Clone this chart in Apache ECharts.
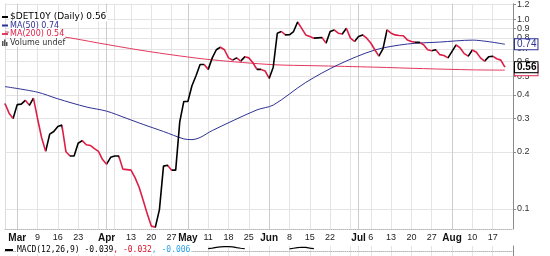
<!DOCTYPE html>
<html><head><meta charset="utf-8">
<script src="https://cdn.jsdelivr.net/npm/echarts@6/dist/echarts.min.js"></script>
<style>html,body{margin:0;padding:0;background:#fff}#c{width:550px;height:256px}</style>
</head><body><div id="c"></div>
<script>
// ---- categories: trading days 2015 (MM-DD) ----
const categories = ['02-25','02-26','02-27',
'03-02','03-03','03-04','03-05','03-06','03-09','03-10','03-11','03-12','03-13','03-16','03-17','03-18','03-19','03-20','03-23','03-24','03-25','03-26','03-27','03-30','03-31',
'04-01','04-02','04-07','04-08','04-09','04-10','04-13','04-14','04-15','04-16','04-17','04-20','04-21','04-22','04-23','04-24','04-27','04-28','04-29','04-30',
'05-04','05-05','05-06','05-07','05-08','05-11','05-12','05-13','05-14','05-15','05-18','05-19','05-20','05-21','05-22','05-25','05-26','05-27','05-28','05-29',
'06-01','06-02','06-03','06-04','06-05','06-08','06-09','06-10','06-11','06-12','06-15','06-16','06-17','06-18','06-19','06-22','06-23','06-24','06-25','06-26','06-29','06-30',
'07-01','07-02','07-03','07-06','07-07','07-08','07-09','07-10','07-13','07-14','07-15','07-16','07-17','07-20','07-21','07-22','07-23','07-24','07-27','07-28','07-29','07-30','07-31',
'08-03','08-04','08-05','08-06','08-07','08-10','08-11','08-12','08-13','08-14','08-17','08-18','08-19','08-20','08-21','08-24'];

// ---- daily closes ($DET10Y) ----
const price = [0.36,0.32,0.30,0.355,0.357,0.374,0.352,0.384,0.30,0.238,
 0.201,0.248,0.256,0.272,0.277,0.20,0.19,0.19,0.222,0.229,
 0.218,0.216,0.208,0.201,0.182,0.172,0.187,0.19,0.19,0.162,
 0.161,0.160,0.146,0.130,0.111,0.094,0.081,0.080,0.099,0.168,
 0.170,0.160,0.160,0.288,0.369,0.369,0.447,0.504,0.578,0.578,
 0.545,0.627,0.692,0.713,0.692,0.627,0.610,0.627,0.603,0.635,
 0.627,0.591,0.545,0.545,0.535,0.488,0.560,0.846,0.864,0.829,
 0.830,0.864,0.970,0.898,0.829,0.813,0.797,0.800,0.803,0.750,
 0.864,0.880,0.846,0.839,0.898,0.797,0.766,0.813,0.829,0.797,
 0.751,0.692,0.640,0.700,0.880,0.846,0.829,0.823,0.820,0.780,
 0.765,0.757,0.757,0.735,0.692,0.684,0.692,0.652,0.645,0.627,
 0.679,0.735,0.707,0.660,0.640,0.690,0.671,0.627,0.603,0.635,
 0.640,0.620,0.610,0.560];

// ---- moving averages (read at sample dates) ----
const ma50 = [['02-25',0.442],['03-09',0.413],['03-16',0.381],['03-25',0.345],['04-01',0.328],['04-10',0.300],
 ['04-16',0.279],['04-23',0.256],['04-30',0.234],['05-05',0.232],['05-07',0.238],['05-12',0.259],['05-27',0.333],
 ['06-02',0.353],['06-12',0.465],['06-24',0.577],['07-07',0.690],['07-17',0.742],['07-29',0.760],['08-10',0.778],['08-20',0.740]];
const ma200 = [['02-25',0.86],['03-17',0.811],['03-30',0.751],['04-15',0.690],['04-29',0.642],['05-12',0.612],
 ['06-02',0.577],['06-16',0.570],['07-07',0.560],['07-23',0.550],['08-10',0.542],['08-20',0.540]];

// ---- MACD line (only the visible tops of the lower panel) ----
const macdA = [['05-11',0.075],['05-12',0.088],['05-13',0.108],['05-14',0.122],['05-15',0.130],['05-18',0.128],['05-19',0.120],['05-20',0.102],['05-21',0.085],['05-22',0.072]];
const macdB = [['06-08',0.070],['06-09',0.085],['06-10',0.100],['06-11',0.112],['06-12',0.108],['06-15',0.090],['06-16',0.075]];
const macdLegend = [-0.039, -0.032, -0.006];

// ---- tick labels ----
const xTickLabels = [['03-02','Mar'],['03-09','9'],['03-16','16'],['03-23','23'],['04-01','Apr'],['04-13','13'],['04-20','20'],['04-27','27'],
 ['05-04','May'],['05-11','11'],['05-18','18'],['05-25','25'],['06-01','Jun'],['06-08','8'],['06-15','15'],['06-22','22'],
 ['07-01','Jul'],['07-06','6'],['07-13','13'],['07-20','20'],['07-27','27'],['08-03','Aug'],['08-10','10'],['08-17','17']];
const monthNames = ['Mar','Apr','May','Jun','Jul','Aug'];
const extraGridDates = ['03-30','04-07','06-29'];
const yTicks = [0.1,0.2,0.3,0.4,0.5,0.6,0.7,0.8,0.9,1.0,1.2];

const RED = '#dc1e46', BLUE = '#2e3194', MA200C = '#e3385f';
const labelMap = new Map(xTickLabels);
const gridSet = new Set(xTickLabels.map(d => d[0]).concat(extraGridDates));
const monthSet = new Set(xTickLabels.filter(d => monthNames.includes(d[1])).map(d => d[0]));

// down-move runs for red colouring
const pieces = [];
for (let i = 0; i < price.length - 1; i++) {
  if (price[i + 1] < price[i]) {
    const last = pieces[pieces.length - 1];
    if (last && last.lte === i) last.lte = i + 1;
    else pieces.push({gte: i, lte: i + 1, color: RED});
  }
}
const lastP = price[price.length - 1];
const last50 = ma50[ma50.length - 1][1];
const last200 = ma200[ma200.length - 1][1];

const FONT = '"DejaVu Sans", Verdana, sans-serif';
const MONO = '"DejaVu Sans Mono", monospace';
function tag(val, border, color, bold) {
  return {
    silent: true, symbol: 'none', animation: false,
    lineStyle: {color: 'rgba(0,0,0,0)', width: 0.01},
    data: [{yAxis: val}],
    label: {show: true, position: 'end', distance: 2, formatter: val.toFixed(2),
      fontFamily: 'Liberation Sans, Arial, sans-serif', fontSize: 10, lineHeight: 9, fontWeight: bold ? 'bold' : 'normal',
      color: color, backgroundColor: '#fff', borderColor: border, borderWidth: 1, padding: [1, 1, 0, 2], opacity: 1}
  };
}

const chart = echarts.init(document.getElementById('c'), null, {renderer: 'canvas'});
const splitCommon = {show: true, interval: (i, v) => gridSet.has(v), lineStyle: {color: '#e4e4e4', width: 1}};
chart.setOption({
  animation: false,
  backgroundColor: '#fff',
  grid: [{left: 5, right: 37, top: 0, height: 229}, {left: 5, right: 37, top: 246, height: 60}],
  xAxis: [
    {type: 'category', gridIndex: 0, data: categories, boundaryGap: false,
     axisLine: {show: true, lineStyle: {color: '#b8b8b8', type: 'dotted'}},
     axisTick: {show: false},
     axisLabel: {interval: (i, v) => labelMap.has(v), margin: 4, hideOverlap: false,
       formatter: v => (monthSet.has(v) ? '{b|' : '{n|') + labelMap.get(v) + '}',
       rich: {b: {fontFamily: 'Liberation Sans, Arial, sans-serif', fontWeight: 'bold', fontSize: 10, color: '#111'},
              n: {fontFamily: 'Liberation Sans, Arial, sans-serif', fontSize: 9, color: '#222'}}},
     splitLine: splitCommon},
    {type: 'category', gridIndex: 0, data: categories, boundaryGap: false, position: 'top',
     axisLine: {show: false}, axisTick: {show: false}, axisLabel: {show: false},
     splitLine: {show: true, interval: (i, v) => monthSet.has(v), lineStyle: {color: '#cdcdcd', width: 1}}},
    {type: 'category', gridIndex: 1, data: categories, boundaryGap: false, position: 'top',
     axisLine: {show: true, lineStyle: {color: '#b8b8b8', type: 'dotted'}},
     axisTick: {show: false}, axisLabel: {show: false}, splitLine: splitCommon}
  ],
  yAxis: [
    {type: 'log', logBase: 10, gridIndex: 0, position: 'right', min: 0.0782, max: 1.2106,
     axisLine: {show: true, lineStyle: {color: '#8a8a8a'}},
     axisTick: {show: true, length: 3, customValues: yTicks, lineStyle: {color: '#8a8a8a'}},
     axisLabel: {customValues: yTicks, formatter: v => Number(v).toFixed(1), margin: 4,
       fontFamily: 'Liberation Sans, Arial, sans-serif', fontSize: 9, color: '#333'},
     splitLine: {show: true, lineStyle: {color: '#e4e4e4', width: 1}}},
    {type: 'value', gridIndex: 1, position: 'right', min: -0.25, max: 0.145,
     axisLine: {show: true, lineStyle: {color: '#8a8a8a'}}, axisTick: {show: false},
     axisLabel: {show: false}, splitLine: {show: false}},
    {type: 'value', gridIndex: 0, position: 'left',
     axisLine: {show: true, lineStyle: {color: '#dcdcdc'}}, axisTick: {show: false},
     axisLabel: {show: false}, splitLine: {show: false}}
  ],
  visualMap: {type: 'piecewise', show: false, dimension: 0, seriesIndex: 0, pieces: pieces, outOfRange: {color: '#000'}},
  series: [
    {type: 'line', name: '$DET10Y (Daily)', xAxisIndex: 0, yAxisIndex: 0, data: price, showSymbol: false,
     lineStyle: {width: 1.6}, z: 6},
    {type: 'line', name: 'MA(50)', xAxisIndex: 0, yAxisIndex: 0, data: ma50, showSymbol: false, smooth: 0.3,
     lineStyle: {width: 1, color: BLUE}, itemStyle: {color: BLUE}, z: 4, markLine: tag(last50, BLUE, BLUE, false)},
    {type: 'line', name: 'MA(200)', xAxisIndex: 0, yAxisIndex: 0, data: ma200, showSymbol: false, smooth: 0.3,
     lineStyle: {width: 1, color: MA200C}, itemStyle: {color: MA200C}, z: 3, markLine: tag(last200, MA200C, '#000', false)},
    {type: 'line', name: 'MACD', xAxisIndex: 2, yAxisIndex: 1, data: macdA.concat([['05-29', null]], macdB),
     showSymbol: false, connectNulls: false, lineStyle: {width: 1.2, color: '#000'}, z: 3},
    {type: 'line', name: 'lastTag', xAxisIndex: 0, yAxisIndex: 0, data: [], z: 10,
     lineStyle: {color: '#000'}, itemStyle: {color: '#000'}, markLine: tag(lastP, '#000', '#000', true)}
  ],
  graphic: [
    {type: 'rect', z: 100, shape: {x: 2, y: 16, width: 6, height: 2}, style: {fill: '#000'}},
    {type: 'text', z: 100, x: 9, y: 17, style: {text: '$DET10Y (Daily) ' + lastP.toFixed(2), font: '9px ' + FONT, fill: '#000', verticalAlign: 'middle', backgroundColor: '#fff', padding: [0, 1]}},
    {type: 'rect', z: 100, shape: {x: 2, y: 24.5, width: 6, height: 2}, style: {fill: BLUE}},
    {type: 'text', z: 100, x: 9, y: 25.5, style: {text: 'MA(50) ' + last50.toFixed(2), font: '8px ' + FONT, fill: BLUE, verticalAlign: 'middle', backgroundColor: '#fff', padding: [0, 1]}},
    {type: 'rect', z: 100, shape: {x: 2, y: 33, width: 6, height: 2}, style: {fill: MA200C}},
    {type: 'text', z: 100, x: 9, y: 34, style: {text: 'MA(200) ' + last200.toFixed(2), font: '8px ' + FONT, fill: RED, verticalAlign: 'middle', backgroundColor: '#fff', padding: [0, 1]}},
    {type: 'rect', z: 100, shape: {x: 2, y: 41, width: 1.5, height: 5}, style: {fill: '#555'}},
    {type: 'rect', z: 100, shape: {x: 4, y: 39.5, width: 1.5, height: 6.5}, style: {fill: '#555'}},
    {type: 'rect', z: 100, shape: {x: 6, y: 42, width: 1.5, height: 4}, style: {fill: '#555'}},
    {type: 'text', z: 100, x: 9, y: 42.5, style: {text: 'Volume undef', font: '8px ' + FONT, fill: '#333', verticalAlign: 'middle', backgroundColor: '#fff', padding: [0, 1]}},
    {type: 'rect', z: 100, shape: {x: 5, y: 249, width: 8, height: 2}, style: {fill: '#000'}},
    {type: 'text', z: 100, x: 16, y: 250, style: {
      text: '{a|MACD(12,26,9) ' + macdLegend[0].toFixed(3) + '}{b|, ' + macdLegend[1].toFixed(3) + '}{c|, ' + macdLegend[2].toFixed(3) + '}',
      font: '8px ' + MONO, verticalAlign: 'middle', backgroundColor: '#fff', padding: [0, 1],
      rich: {a: {fill: '#000', font: '8px ' + MONO}, b: {fill: '#e0102a', font: '8px ' + MONO}, c: {fill: '#2aa0e8', font: '8px ' + MONO}}}}
  ]
});
</script></body></html>
